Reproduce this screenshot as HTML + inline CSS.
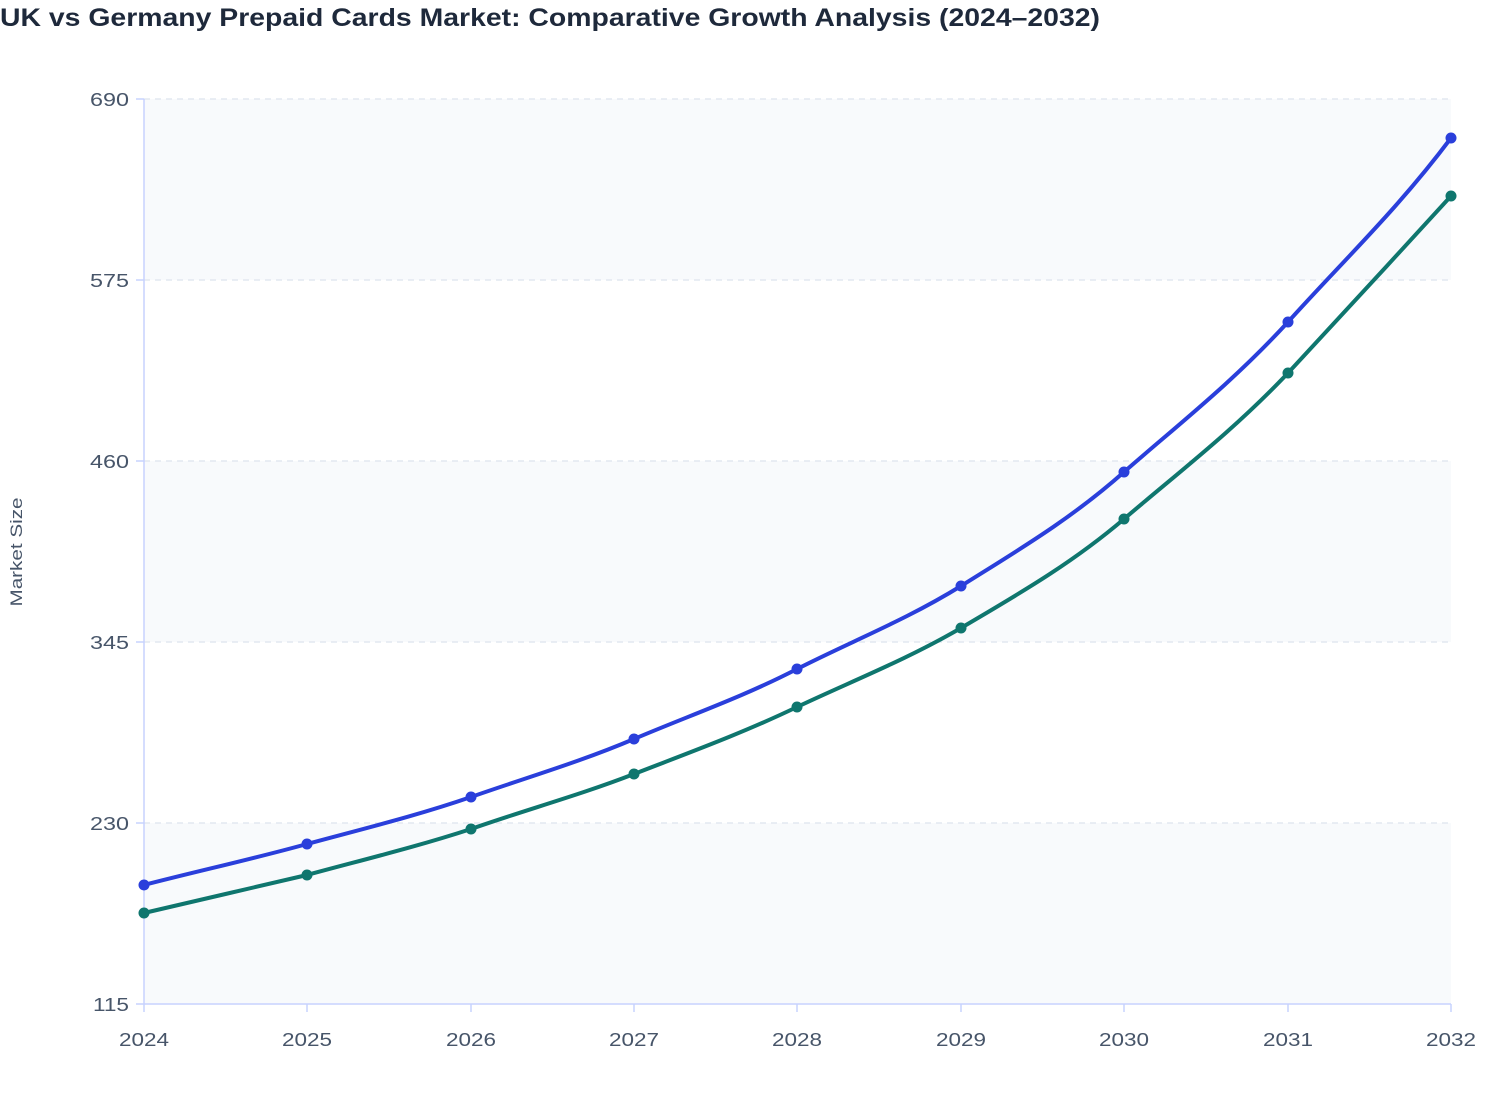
<!DOCTYPE html><html><head><meta charset="utf-8"><style>body{margin:0;background:#fff}svg{display:block;font-family:"Liberation Sans",sans-serif}</style></head><body>
<svg width="1508" height="1120" viewBox="0 0 1508 1120">
<text x="0" y="26" font-size="25" font-weight="bold" fill="#1e293b" textLength="1100" lengthAdjust="spacingAndGlyphs">UK vs Germany Prepaid Cards Market: Comparative Growth Analysis (2024–2032)</text>
<rect x="144" y="99" width="1307" height="181" fill="#f8fafc"/>
<rect x="144" y="461" width="1307" height="181" fill="#f8fafc"/>
<rect x="144" y="823" width="1307" height="181" fill="#f8fafc"/>
<g stroke="#e2e8f0" stroke-dasharray="6,5" stroke-width="1.5">
<line x1="144" x2="1451" y1="99" y2="99"/><line x1="144" x2="1451" y1="280" y2="280"/><line x1="144" x2="1451" y1="461" y2="461"/><line x1="144" x2="1451" y1="642" y2="642"/><line x1="144" x2="1451" y1="823" y2="823"/></g>
<g stroke="#c7d2fe" stroke-width="1.5"><line x1="144" y1="99" x2="144" y2="1004"/><line x1="136" y1="1004" x2="1451" y2="1004"/>
<line x1="136" y1="99" x2="144" y2="99"/><line x1="136" y1="280" x2="144" y2="280"/><line x1="136" y1="461" x2="144" y2="461"/><line x1="136" y1="642" x2="144" y2="642"/><line x1="136" y1="823" x2="144" y2="823"/>
<line x1="144" y1="1004" x2="144" y2="1012"/><line x1="307" y1="1004" x2="307" y2="1012"/><line x1="471" y1="1004" x2="471" y2="1012"/><line x1="634" y1="1004" x2="634" y2="1012"/><line x1="797" y1="1004" x2="797" y2="1012"/><line x1="961" y1="1004" x2="961" y2="1012"/><line x1="1124" y1="1004" x2="1124" y2="1012"/><line x1="1288" y1="1004" x2="1288" y2="1012"/><line x1="1451" y1="1004" x2="1451" y2="1012"/></g>
<g font-size="18" fill="#475569" text-anchor="end"><text x="129" y="106" textLength="39" lengthAdjust="spacingAndGlyphs">690</text><text x="129" y="287" textLength="39" lengthAdjust="spacingAndGlyphs">575</text><text x="129" y="468" textLength="39" lengthAdjust="spacingAndGlyphs">460</text><text x="129" y="649" textLength="39" lengthAdjust="spacingAndGlyphs">345</text><text x="129" y="830" textLength="39" lengthAdjust="spacingAndGlyphs">230</text><text x="129" y="1011" textLength="36" lengthAdjust="spacingAndGlyphs">115</text></g>
<g font-size="18" fill="#475569" text-anchor="middle"><text x="144" y="1046" textLength="50" lengthAdjust="spacingAndGlyphs">2024</text><text x="307" y="1046" textLength="50" lengthAdjust="spacingAndGlyphs">2025</text><text x="471" y="1046" textLength="50" lengthAdjust="spacingAndGlyphs">2026</text><text x="634" y="1046" textLength="50" lengthAdjust="spacingAndGlyphs">2027</text><text x="797" y="1046" textLength="50" lengthAdjust="spacingAndGlyphs">2028</text><text x="961" y="1046" textLength="50" lengthAdjust="spacingAndGlyphs">2029</text><text x="1124" y="1046" textLength="50" lengthAdjust="spacingAndGlyphs">2030</text><text x="1288" y="1046" textLength="50" lengthAdjust="spacingAndGlyphs">2031</text><text x="1451" y="1046" textLength="50" lengthAdjust="spacingAndGlyphs">2032</text></g>
<text transform="translate(22,552) rotate(-90)" font-size="17" fill="#475569" text-anchor="middle" textLength="109" lengthAdjust="spacingAndGlyphs">Market Size</text>
<path d="M144,885 C198,871 253,859 307,844 C362,829 416,816 471,797 C525,778 580,762 634,739 C688,716 743,697 797,669 C852,641 906,620 961,586 C1015,552 1070,520 1124,472 C1179,424 1233,382 1288,322 C1342,262 1397,210 1451,138" fill="none" stroke="#2a3fdb" stroke-width="4"/>
<path d="M144,913 C198,900 253,888 307,875 C362,860 416,847 471,829 C525,810 580,795 634,774 C688,753 743,733 797,707 C852,681 906,660 961,628 C1015,596 1070,565 1124,519 C1179,472 1233,431 1288,373 C1342,315 1397,255 1451,196" fill="none" stroke="#0f766e" stroke-width="4"/>
<g fill="#2a3fdb"><circle cx="144" cy="885" r="5.5"/><circle cx="307" cy="844" r="5.5"/><circle cx="471" cy="797" r="5.5"/><circle cx="634" cy="739" r="5.5"/><circle cx="797" cy="669" r="5.5"/><circle cx="961" cy="586" r="5.5"/><circle cx="1124" cy="472" r="5.5"/><circle cx="1288" cy="322" r="5.5"/><circle cx="1451" cy="138" r="5.5"/></g>
<g fill="#0f766e"><circle cx="144" cy="913" r="5.5"/><circle cx="307" cy="875" r="5.5"/><circle cx="471" cy="829" r="5.5"/><circle cx="634" cy="774" r="5.5"/><circle cx="797" cy="707" r="5.5"/><circle cx="961" cy="628" r="5.5"/><circle cx="1124" cy="519" r="5.5"/><circle cx="1288" cy="373" r="5.5"/><circle cx="1451" cy="196" r="5.5"/></g>
</svg></body></html>
